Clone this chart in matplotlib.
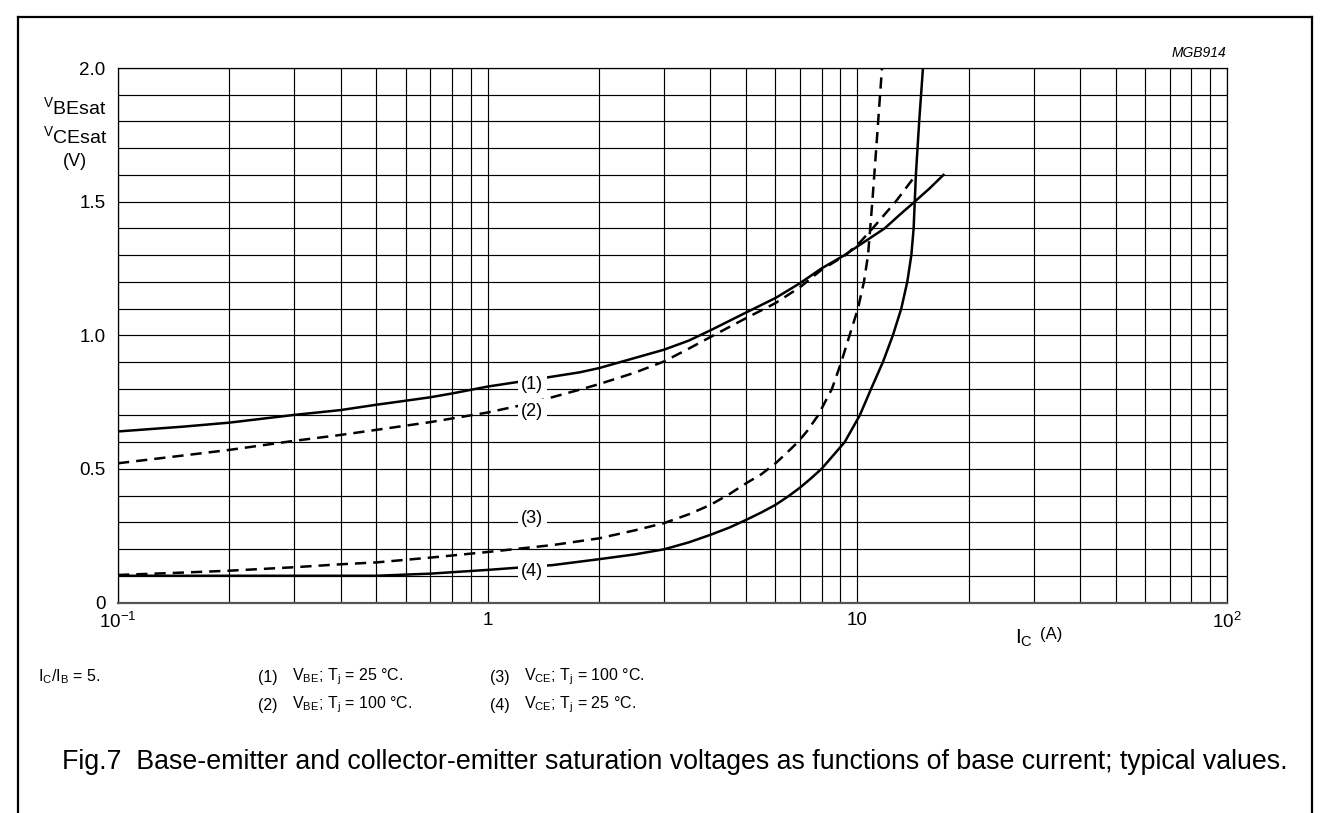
import numpy as np
import matplotlib
matplotlib.use('Agg')
import matplotlib.pyplot as plt
from matplotlib.lines import Line2D

plt.rcParams['font.family'] = ['Liberation Sans', 'DejaVu Sans']
plt.rcParams['mathtext.fontset'] = 'custom'
plt.rcParams['mathtext.rm'] = 'Liberation Sans'
plt.rcParams['mathtext.it'] = 'Liberation Sans:italic'

# ---------------- data ----------------
# (1) VBE; Tj = 25 C  (solid)
ic1 = [0.1, 0.15, 0.2, 0.3, 0.4, 0.5, 0.6, 0.7, 0.8, 1.0, 1.3, 1.77, 2.0, 2.4, 3.0, 3.5, 4.0, 5.0, 6.0, 7.0, 8.0,
       9.24, 10.0, 11.86, 13.0, 14.3, 15.7, 17.1]
v1 = [0.64, 0.658, 0.673, 0.702, 0.72, 0.74, 0.755, 0.768, 0.782, 0.808, 0.832, 0.861, 0.877, 0.908, 0.946, 0.98,
      1.018, 1.085, 1.139, 1.195, 1.25, 1.30, 1.332, 1.40, 1.45, 1.50, 1.55, 1.60]

# (2) VBE; Tj = 100 C  (dashed)
ic2 = [0.1, 0.15, 0.2, 0.3, 0.4, 0.5, 0.7, 1.0, 1.3, 1.77, 2.0, 2.5, 3.0, 3.5, 4.0, 5.0, 6.0, 7.0, 8.0, 9.3,
       10.2, 11.0, 12.7, 14.4]
v2 = [0.521, 0.55, 0.571, 0.605, 0.627, 0.646, 0.675, 0.711, 0.745, 0.796, 0.817, 0.86, 0.902, 0.95, 0.993, 1.064,
      1.12, 1.18, 1.245, 1.30, 1.35, 1.40, 1.50, 1.60]

# (3) VCE; Tj = 100 C  (dashed)
ic3 = [0.1, 0.15, 0.2, 0.3, 0.4, 0.5, 0.7, 1.0, 1.5, 2.0, 2.5, 3.0, 3.5, 4.0, 4.5, 5.0, 5.5, 6.0, 6.5, 6.9, 7.3,
       7.83, 8.54, 9.05, 9.53, 10.04, 10.42, 10.69, 10.98, 11.25, 11.66]
v3 = [0.103, 0.112, 0.119, 0.132, 0.143, 0.150, 0.168, 0.189, 0.215, 0.24, 0.27, 0.297, 0.33, 0.365, 0.405, 0.446,
      0.48, 0.52, 0.565, 0.60, 0.64, 0.70, 0.80, 0.90, 1.00, 1.10, 1.20, 1.30, 1.50, 1.70, 2.00]

# (4) VCE; Tj = 25 C  (solid)
ic4 = [0.1, 0.3, 0.5, 0.7, 1.0, 1.5, 2.0, 2.5, 3.0, 3.5, 4.0, 4.5, 5.0, 5.5, 6.0, 6.5, 7.0, 7.5, 8.0, 8.6, 9.24,
       10.15, 10.9, 11.73, 12.48, 13.15, 13.65, 14.0, 14.2, 14.3, 14.4, 14.7, 15.05]
v4 = [0.10, 0.10, 0.10, 0.108, 0.122, 0.14, 0.162, 0.18, 0.199, 0.225, 0.253, 0.28, 0.309, 0.337, 0.365, 0.397,
      0.43, 0.465, 0.50, 0.55, 0.60, 0.70, 0.80, 0.90, 1.00, 1.10, 1.20, 1.30, 1.40, 1.50, 1.60, 1.80, 2.00]

curve_labels = ['(1)', '(2)', '(3)', '(4)']
label_levels = [0.8, 0.7, 0.3, 0.1]

W, H = 1329, 813
fig = plt.figure(figsize=(W / 100, H / 100), dpi=100)


def fx(px):
    return px / W


def fy(py):
    return 1 - py / H


ax = fig.add_axes([fx(118), fy(602.5), fx(1227) - fx(118), fy(68) - fy(602.5)])
ax.set_xscale('log')
ax.set_xlim(0.1, 100)
ax.set_ylim(0, 2.0)

# grid
ax.set_xticks([0.1, 1, 10, 100])
ax.set_xticks([m * d for d in (0.1, 1, 10) for m in range(2, 10)], minor=True)
ax.set_yticks([0, 0.5, 1.0, 1.5, 2.0])
ax.set_yticks(np.arange(0, 2.01, 0.1), minor=True)
ax.grid(True, which='both', color='black', linewidth=0.85)
ax.set_axisbelow(True)
ax.tick_params(which='both', length=0)
ax.set_xticklabels(['10$^{\u22121}$', '1', '10', '10$^{2}$'], fontsize=13.5)
ax.set_yticklabels(['0', '0.5', '1.0', '1.5', '2.0'], fontsize=13.5)
ax.tick_params(axis='y', pad=9)
ax.tick_params(axis='x', pad=7)
for s in ax.spines.values():
    s.set_linewidth(0.9)
ax.spines['bottom'].set_color('#555555')
ax.spines['bottom'].set_linewidth(1.6)

lw = 1.8
ax.plot(ic1, v1, color='black', lw=lw)
ax.plot(ic2, v2, color='black', lw=lw, dashes=(4.5, 2.8))
ax.plot(ic3, v3, color='black', lw=lw, dashes=(4.5, 2.8))
ax.plot(ic4, v4, color='black', lw=lw)

for lab, lev in zip(curve_labels, label_levels):
    ax.text(1.32, lev + 0.015, lab, fontsize=13, ha='center', va='center',
            bbox=dict(facecolor='white', edgecolor='none', pad=2.5))

# axis titles
fig.text(fx(75), fy(107), r'$\mathrm{{}^{V}BEsat}$', fontsize=14, ha='center', va='center')
fig.text(fx(75), fy(136), r'$\mathrm{{}^{V}CEsat}$', fontsize=14, ha='center', va='center')
fig.text(fx(75), fy(162), '(V)', fontsize=13, ha='center', va='center')
fig.text(fx(1015), fy(638), r'$\mathrm{I_C}$', fontsize=15, ha='left', va='center')
fig.text(fx(1040), fy(634), '(A)', fontsize=12, ha='left', va='center')
fig.text(fx(1226), fy(53), 'MGB914', fontsize=10, style='italic', ha='right', va='center')

# notes under the chart
fs = 11.5
fig.text(fx(38), fy(677), r'$\mathrm{I_C/I_B}$ = 5.', fontsize=fs, va='center')
fig.text(fx(258), fy(677), '(1)', fontsize=fs, va='center')
fig.text(fx(292), fy(677), r'$\mathrm{V_{BE}}$; $\mathrm{T_j}$ = 25 °C.', fontsize=fs, va='center')
fig.text(fx(258), fy(705), '(2)', fontsize=fs, va='center')
fig.text(fx(292), fy(705), r'$\mathrm{V_{BE}}$; $\mathrm{T_j}$ = 100 °C.', fontsize=fs, va='center')
fig.text(fx(490), fy(677), '(3)', fontsize=fs, va='center')
fig.text(fx(524), fy(677), r'$\mathrm{V_{CE}}$; $\mathrm{T_j}$ = 100 °C.', fontsize=fs, va='center')
fig.text(fx(490), fy(705), '(4)', fontsize=fs, va='center')
fig.text(fx(524), fy(705), r'$\mathrm{V_{CE}}$; $\mathrm{T_j}$ = 25 °C.', fontsize=fs, va='center')

fig.text(fx(62), fy(762), 'Fig.7  Base-emitter and collector-emitter saturation voltages as functions of base current; typical values.',
         fontsize=19.3, va='center', ha='left')

# outer frame (open at the bottom)
frame = dict(color='black', lw=1.6, transform=fig.transFigure)
fig.add_artist(Line2D([fx(18), fx(18)], [0, fy(17)], **frame))
fig.add_artist(Line2D([fx(18), fx(1312)], [fy(17), fy(17)], **frame))
fig.add_artist(Line2D([fx(1312), fx(1312)], [fy(17), 0], **frame))

plt.savefig('out.png', dpi=100)
plt.close()
